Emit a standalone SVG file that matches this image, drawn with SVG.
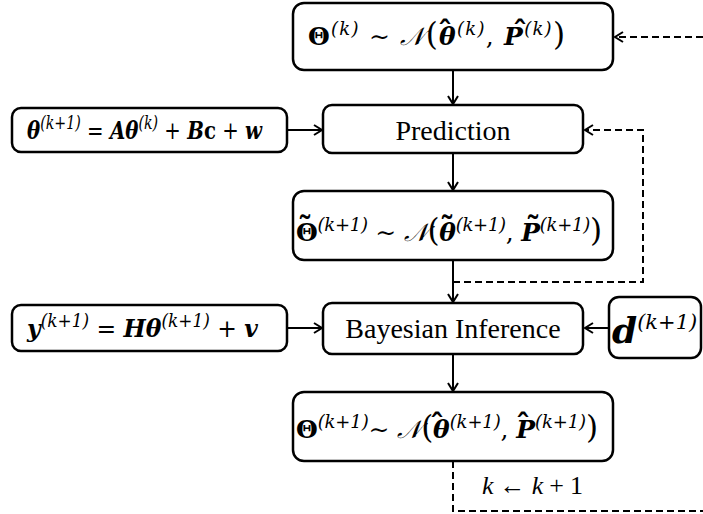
<svg xmlns="http://www.w3.org/2000/svg" width="703" height="514" viewBox="0 0 703 514">
<defs>
<style>
.box{fill:#fff;stroke:#000;stroke-width:2.5}
.ln{fill:none;stroke:#000;stroke-width:2}
.dash{fill:none;stroke:#000;stroke-width:2;stroke-dasharray:7,4}
.m{font-family:"DejaVu Serif","Liberation Serif",serif;font-size:25px;fill:#000}
.bi{font-weight:bold;font-style:italic}
.bu{font-weight:bold}
.it{font-style:italic}
.sup{font-size:18px;font-weight:normal}
.lbl{font-family:"Liberation Serif","Times New Roman",serif;font-size:28px;fill:#000}
.big{font-size:31px;font-weight:normal}
.acc{font-family:"DejaVu Serif",serif;font-size:30px;font-weight:bold;fill:#000;text-anchor:middle}
</style>
<marker id="ah" markerWidth="12" markerHeight="12" refX="10" refY="6" orient="auto" markerUnits="userSpaceOnUse">
<path d="M2,1 L10,6 L2,11" fill="none" stroke="#000" stroke-width="2"/>
</marker>
</defs>
<rect width="703" height="514" fill="#fff"/>
<g id="connectors">
<line class="ln" x1="453" y1="70" x2="453" y2="104" marker-end="url(#ah)"/>
<line class="ln" x1="287" y1="130" x2="322" y2="130" marker-end="url(#ah)"/>
<line class="ln" x1="453" y1="153" x2="453" y2="190" marker-end="url(#ah)"/>
<line class="ln" x1="453" y1="260" x2="453" y2="302" marker-end="url(#ah)"/>
<path class="dash" d="M453,282 H643 V130 H585" marker-end="url(#ah)"/>
<line class="ln" x1="287" y1="328" x2="322" y2="328" marker-end="url(#ah)"/>
<line class="ln" x1="609" y1="328" x2="585" y2="328" marker-end="url(#ah)"/>
<line class="ln" x1="453" y1="354" x2="453" y2="391" marker-end="url(#ah)"/>
<path class="dash" d="M453,461 V511 H712 V37 H615" marker-end="url(#ah)"/>
</g>
<g id="node-prior">
<rect class="box" x="293" y="3" width="320" height="67" rx="11"/>
<text class="m" x="308" y="45" textLength="257" lengthAdjust="spacing"><tspan class="bu">Θ</tspan><tspan class="sup it" dy="-10">(k)</tspan><tspan dy="10"> ∼ </tspan><tspan class="it">𝒩</tspan><tspan class="big">(</tspan><tspan class="bi">θ</tspan><tspan class="sup it" dy="-10">(k)</tspan><tspan dy="10">, </tspan><tspan class="bi">P</tspan><tspan class="sup it" dy="-10">(k)</tspan><tspan class="big" dy="10">)</tspan></text>
<text class="acc" x="445" y="42">ˆ</text>
<text class="acc" x="520" y="42">ˆ</text>
</g>
<g id="node-model">
<rect class="box" x="12" y="108" width="275" height="44" rx="9"/>
<text class="m" x="27" y="139" textLength="235" lengthAdjust="spacingAndGlyphs"><tspan class="bi">θ</tspan><tspan class="sup it" dy="-10">(k+1)</tspan><tspan dy="10"> = </tspan><tspan class="bi">Aθ</tspan><tspan class="sup it" dy="-10">(k)</tspan><tspan dy="10"> + </tspan><tspan class="bi">B</tspan><tspan class="bu">c</tspan><tspan> + </tspan><tspan class="bi">w</tspan></text>
</g>
<g id="node-prediction">
<rect class="box" x="323" y="105" width="260" height="48" rx="9"/>
<text class="lbl" x="453" y="140" text-anchor="middle">Prediction</text>
</g>
<g id="node-predicted">
<rect class="box" x="293" y="191" width="320" height="69" rx="11"/>
<text class="m" x="296" y="241" textLength="306" lengthAdjust="spacing"><tspan class="bu">Θ</tspan><tspan class="sup it" dy="-10">(k+1)</tspan><tspan dy="10"> ∼ </tspan><tspan class="it">𝒩</tspan><tspan class="big">(</tspan><tspan class="bi">θ</tspan><tspan class="sup it" dy="-10">(k+1)</tspan><tspan dy="10">, </tspan><tspan class="bi">P</tspan><tspan class="sup it" dy="-10">(k+1)</tspan><tspan class="big" dy="10">)</tspan></text>
<text class="acc" x="305" y="238">˜</text>
<text class="acc" x="447" y="238">˜</text>
<text class="acc" x="533" y="238">˜</text>
</g>
<g id="node-observation">
<rect class="box" x="12" y="305" width="275" height="46" rx="9"/>
<text class="m" x="27" y="337" textLength="231" lengthAdjust="spacingAndGlyphs"><tspan class="bi">y</tspan><tspan class="sup it" dy="-10">(k+1)</tspan><tspan dy="10"> = </tspan><tspan class="bi">Hθ</tspan><tspan class="sup it" dy="-10">(k+1)</tspan><tspan dy="10"> + </tspan><tspan class="bi">v</tspan></text>
</g>
<g id="node-bayes">
<rect class="box" x="323" y="303" width="260" height="51" rx="9"/>
<text class="lbl" x="453" y="338" text-anchor="middle">Bayesian Inference</text>
</g>
<g id="node-data">
<rect class="box" x="609" y="297" width="92" height="61" rx="10"/>
<text class="m" x="612" y="343"><tspan class="bi" style="font-size:36px">d</tspan><tspan class="sup it" style="font-size:21px" dy="-14">(k+1)</tspan></text>
</g>
<g id="node-posterior">
<rect class="box" x="293" y="392" width="320" height="69" rx="11"/>
<text class="m" x="296" y="438" textLength="302" lengthAdjust="spacing"><tspan class="bu">Θ</tspan><tspan class="sup it" dy="-10">(k+1)</tspan><tspan dy="10">∼ </tspan><tspan class="it">𝒩</tspan><tspan class="big">(</tspan><tspan class="bi">θ</tspan><tspan class="sup it" dy="-10">(k+1)</tspan><tspan dy="10">, </tspan><tspan class="bi">P</tspan><tspan class="sup it" dy="-10">(k+1)</tspan><tspan class="big" dy="10">)</tspan></text>
<text class="acc" x="437" y="435">ˆ</text>
<text class="acc" x="523" y="435">ˆ</text>
</g>
<text x="482" y="494" style="font-family:'Liberation Serif',serif;font-size:26px" textLength="101" lengthAdjust="spacing"><tspan class="it">k</tspan> ← <tspan class="it">k</tspan> + 1</text>
</svg>
